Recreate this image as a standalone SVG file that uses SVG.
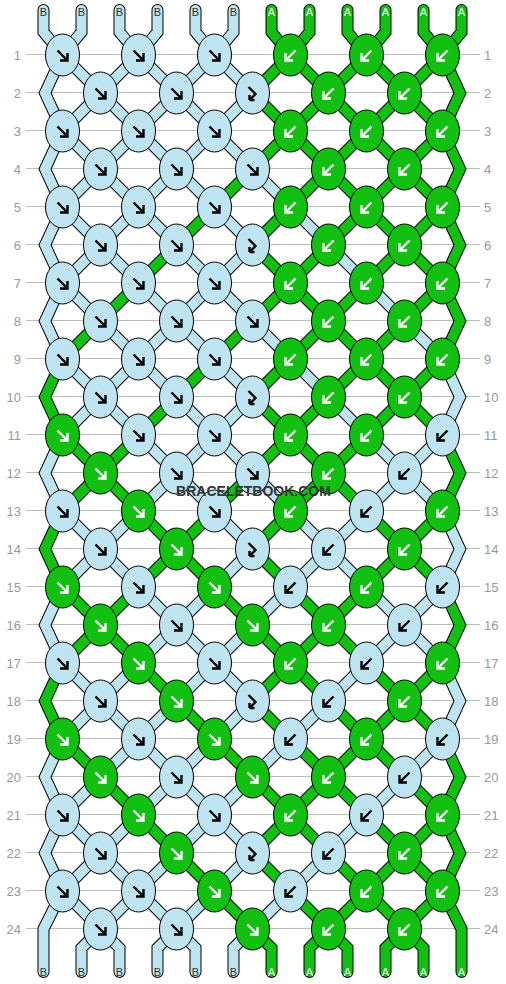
<svg xmlns="http://www.w3.org/2000/svg" xmlns:xlink="http://www.w3.org/1999/xlink" width="506" height="984" viewBox="0 0 506 984">
<style>
.ln{stroke:#bbb;stroke-width:1}
.num{font-family:"Liberation Sans",Arial,sans-serif;font-size:13px;fill:#999}
.lb{font-family:"Liberation Sans",Arial,sans-serif;font-size:11px;text-anchor:middle}
.lbB{fill:#333}
.lbA{fill:#fff}
.kb{fill:#bee4f2;stroke:#000;stroke-width:1}
.kg{fill:#12c012;stroke:#000;stroke-width:1}
.ak{fill:none;stroke:#000;stroke-width:2.4}
.aw{fill:none;stroke:#fff;stroke-width:2.4}
.wm{font-family:"Liberation Sans",Arial,sans-serif;font-size:14px;font-weight:bold;fill:#333;text-anchor:middle}
</style>
<defs>
<path id="aF" d="M-5-4.5L4 4.5M-2.5 5.5H5V-2"/>
<path id="aB" d="M5-4.5L-4 4.5M2.5 5.5H-5V-2"/>
<path id="aFB" d="M-4-6L3 1L-3 7M-3 7H2M-3 7V2"/>
<path id="pB" d="M43.5 10V32L62.5 55M81.5 10V32L62.5 55M119.5 10V32L138.5 55M157.5 10V32L138.5 55M195.5 10V32L214.5 55M233.5 10V32L214.5 55
M62.5 55L45 93L62.5 131M62.5 131L45 169L62.5 207M62.5 207L45 245L62.5 283M62.5 283L45 321L62.5 359M62.5 435L45 473L62.5 511M62.5 587L45 625L62.5 663M62.5 739L45 777L62.5 815M62.5 815L45 853L62.5 891M62.5 891L43.5 929V972
M442.5 359L460 397L442.5 435M442.5 511L460 549L442.5 587M442.5 663L460 701L442.5 739
M100.5 929L81.5 948V972M100.5 929L119.5 948V972M176.5 929L157.5 948V972M176.5 929L195.5 948V972M252.5 929L233.5 948V972
M62.5 55l38 38M138.5 55l-38 38M138.5 55l38 38M214.5 55l-38 38M214.5 55l38 38
M100.5 93l-38 38M100.5 93l38 38M176.5 93l-38 38M176.5 93l38 38M252.5 93l-38 38
M62.5 131l38 38M138.5 131l-38 38M138.5 131l38 38M214.5 131l-38 38M214.5 131l38 38
M100.5 169l-38 38M100.5 169l38 38M176.5 169l-38 38M176.5 169l38 38M252.5 169l38 38
M62.5 207l38 38M138.5 207l-38 38M138.5 207l38 38M214.5 207l38 38M290.5 207l38 38
M100.5 245l-38 38M100.5 245l38 38M176.5 245l38 38M252.5 245l-38 38M328.5 245l38 38
M62.5 283l38 38M138.5 283l38 38M214.5 283l-38 38M214.5 283l38 38M366.5 283l38 38
M100.5 321l38 38M176.5 321l-38 38M176.5 321l38 38M252.5 321l38 38M404.5 321l38 38
M62.5 359l38 38M138.5 359l-38 38M138.5 359l38 38M214.5 359l38 38M290.5 359l38 38
M100.5 397l-38 38M100.5 397l38 38M176.5 397l38 38M252.5 397l-38 38M328.5 397l38 38
M138.5 435l38 38M214.5 435l-38 38M214.5 435l38 38M366.5 435l38 38M442.5 435l-38 38
M176.5 473l-38 38M176.5 473l38 38M252.5 473l38 38M404.5 473l-38 38M404.5 473l38 38
M62.5 511l38 38M138.5 511l-38 38M214.5 511l38 38M290.5 511l38 38M366.5 511l-38 38
M100.5 549l-38 38M100.5 549l38 38M252.5 549l-38 38M328.5 549l-38 38M328.5 549l38 38
M138.5 587l38 38M214.5 587l-38 38M290.5 587l-38 38M366.5 587l38 38M442.5 587l-38 38
M176.5 625l-38 38M176.5 625l38 38M252.5 625l-38 38M404.5 625l-38 38M404.5 625l38 38
M62.5 663l38 38M138.5 663l-38 38M214.5 663l-38 38M214.5 663l38 38M366.5 663l-38 38
M100.5 701l-38 38M100.5 701l38 38M176.5 701l-38 38M252.5 701l-38 38M328.5 701l-38 38
M138.5 739l-38 38M138.5 739l38 38M214.5 739l-38 38M290.5 739l-38 38M442.5 739l-38 38
M100.5 777l-38 38M176.5 777l-38 38M176.5 777l38 38M252.5 777l-38 38M404.5 777l-38 38
M62.5 815l38 38M138.5 815l-38 38M214.5 815l-38 38M214.5 815l38 38M366.5 815l-38 38
M100.5 853l-38 38M100.5 853l38 38M176.5 853l-38 38M252.5 853l-38 38M328.5 853l-38 38
M62.5 891l38 38M138.5 891l-38 38M138.5 891l38 38M214.5 891l-38 38M290.5 891l-38 38"/>
<path id="pG" d="M271.5 10V32L290.5 55M309.5 10V32L290.5 55M347.5 10V32L366.5 55M385.5 10V32L366.5 55M423.5 10V32L442.5 55M461.5 10V32L442.5 55
M62.5 359L45 397L62.5 435M62.5 511L45 549L62.5 587M62.5 663L45 701L62.5 739
M442.5 55L460 93L442.5 131M442.5 131L460 169L442.5 207M442.5 207L460 245L442.5 283M442.5 283L460 321L442.5 359M442.5 435L460 473L442.5 511M442.5 587L460 625L442.5 663M442.5 739L460 777L442.5 815M442.5 815L460 853L442.5 891M442.5 891L461.5 929V972
M252.5 929L271.5 948V972M328.5 929L309.5 948V972M328.5 929L347.5 948V972M404.5 929L385.5 948V972M404.5 929L423.5 948V972
M290.5 55l-38 38M290.5 55l38 38M366.5 55l-38 38M366.5 55l38 38M442.5 55l-38 38
M252.5 93l38 38M328.5 93l-38 38M328.5 93l38 38M404.5 93l-38 38M404.5 93l38 38
M290.5 131l-38 38M290.5 131l38 38M366.5 131l-38 38M366.5 131l38 38M442.5 131l-38 38
M252.5 169l-38 38M328.5 169l-38 38M328.5 169l38 38M404.5 169l-38 38M404.5 169l38 38
M214.5 207l-38 38M290.5 207l-38 38M366.5 207l-38 38M366.5 207l38 38M442.5 207l-38 38
M176.5 245l-38 38M252.5 245l38 38M328.5 245l-38 38M404.5 245l-38 38M404.5 245l38 38
M138.5 283l-38 38M290.5 283l-38 38M290.5 283l38 38M366.5 283l-38 38M442.5 283l-38 38
M100.5 321l-38 38M252.5 321l-38 38M328.5 321l-38 38M328.5 321l38 38M404.5 321l-38 38
M214.5 359l-38 38M290.5 359l-38 38M366.5 359l-38 38M366.5 359l38 38M442.5 359l-38 38
M176.5 397l-38 38M252.5 397l38 38M328.5 397l-38 38M404.5 397l-38 38M404.5 397l38 38
M62.5 435l38 38M138.5 435l-38 38M290.5 435l-38 38M290.5 435l38 38M366.5 435l-38 38
M100.5 473l-38 38M100.5 473l38 38M252.5 473l-38 38M328.5 473l-38 38M328.5 473l38 38
M138.5 511l38 38M214.5 511l-38 38M290.5 511l-38 38M366.5 511l38 38M442.5 511l-38 38
M176.5 549l-38 38M176.5 549l38 38M252.5 549l38 38M404.5 549l-38 38M404.5 549l38 38
M62.5 587l38 38M138.5 587l-38 38M214.5 587l38 38M290.5 587l38 38M366.5 587l-38 38
M100.5 625l-38 38M100.5 625l38 38M252.5 625l38 38M328.5 625l-38 38M328.5 625l38 38
M138.5 663l38 38M290.5 663l-38 38M290.5 663l38 38M366.5 663l38 38M442.5 663l-38 38
M176.5 701l38 38M252.5 701l38 38M328.5 701l38 38M404.5 701l-38 38M404.5 701l38 38
M62.5 739l38 38M214.5 739l38 38M290.5 739l38 38M366.5 739l-38 38M366.5 739l38 38
M100.5 777l38 38M252.5 777l38 38M328.5 777l-38 38M328.5 777l38 38M404.5 777l38 38
M138.5 815l38 38M290.5 815l-38 38M290.5 815l38 38M366.5 815l38 38M442.5 815l-38 38
M176.5 853l38 38M252.5 853l38 38M328.5 853l38 38M404.5 853l-38 38M404.5 853l38 38
M214.5 891l38 38M290.5 891l38 38M366.5 891l-38 38M366.5 891l38 38M442.5 891l-38 38"/>
</defs>
<rect width="506" height="984" fill="#fff"/>
<g id="rowlines">
<path class="ln" d="M26 54.5H480M26 92.5H480M26 130.5H480M26 168.5H480M26 206.5H480M26 244.5H480M26 282.5H480M26 320.5H480M26 358.5H480M26 396.5H480M26 434.5H480M26 472.5H480M26 510.5H480M26 548.5H480M26 586.5H480M26 624.5H480M26 662.5H480M26 700.5H480M26 738.5H480M26 776.5H480M26 814.5H480M26 852.5H480M26 890.5H480M26 928.5H480"/>
</g>
<g id="rownumbers" class="num">
<g text-anchor="end">
<text x="21" y="59.5">1</text><text x="21" y="97.5">2</text><text x="21" y="135.5">3</text><text x="21" y="173.5">4</text><text x="21" y="211.5">5</text><text x="21" y="249.5">6</text><text x="21" y="287.5">7</text><text x="21" y="325.5">8</text><text x="21" y="363.5">9</text><text x="21" y="401.5">10</text><text x="21" y="439.5">11</text><text x="21" y="477.5">12</text><text x="21" y="515.5">13</text><text x="21" y="553.5">14</text><text x="21" y="591.5">15</text><text x="21" y="629.5">16</text><text x="21" y="667.5">17</text><text x="21" y="705.5">18</text><text x="21" y="743.5">19</text><text x="21" y="781.5">20</text><text x="21" y="819.5">21</text><text x="21" y="857.5">22</text><text x="21" y="895.5">23</text><text x="21" y="933.5">24</text>
</g>
<g text-anchor="start">
<text x="484" y="59.5">1</text><text x="484" y="97.5">2</text><text x="484" y="135.5">3</text><text x="484" y="173.5">4</text><text x="484" y="211.5">5</text><text x="484" y="249.5">6</text><text x="484" y="287.5">7</text><text x="484" y="325.5">8</text><text x="484" y="363.5">9</text><text x="484" y="401.5">10</text><text x="484" y="439.5">11</text><text x="484" y="477.5">12</text><text x="484" y="515.5">13</text><text x="484" y="553.5">14</text><text x="484" y="591.5">15</text><text x="484" y="629.5">16</text><text x="484" y="667.5">17</text><text x="484" y="705.5">18</text><text x="484" y="743.5">19</text><text x="484" y="781.5">20</text><text x="484" y="819.5">21</text><text x="484" y="857.5">22</text><text x="484" y="895.5">23</text><text x="484" y="933.5">24</text>
</g>
</g>
<g id="connectors" fill="none" stroke-linecap="round" stroke-linejoin="miter">
<use href="#pB" stroke="#000" stroke-width="12"/>
<use href="#pG" stroke="#000" stroke-width="12"/>
<use href="#pB" stroke="#bee4f2" stroke-width="10"/>
<use href="#pG" stroke="#12c012" stroke-width="10"/>
</g>
<g id="labels" class="lb">
<text class="lbB" x="43.5" y="16">B</text><text class="lbB" x="81.5" y="16">B</text><text class="lbB" x="119.5" y="16">B</text><text class="lbB" x="157.5" y="16">B</text><text class="lbB" x="195.5" y="16">B</text><text class="lbB" x="233.5" y="16">B</text>
<text class="lbA" x="271.5" y="16">A</text><text class="lbA" x="309.5" y="16">A</text><text class="lbA" x="347.5" y="16">A</text><text class="lbA" x="385.5" y="16">A</text><text class="lbA" x="423.5" y="16">A</text><text class="lbA" x="461.5" y="16">A</text>
<text class="lbB" x="43.5" y="976">B</text><text class="lbB" x="81.5" y="976">B</text><text class="lbB" x="119.5" y="976">B</text><text class="lbB" x="157.5" y="976">B</text><text class="lbB" x="195.5" y="976">B</text><text class="lbB" x="233.5" y="976">B</text>
<text class="lbA" x="271.5" y="976">A</text><text class="lbA" x="309.5" y="976">A</text><text class="lbA" x="347.5" y="976">A</text><text class="lbA" x="385.5" y="976">A</text><text class="lbA" x="423.5" y="976">A</text><text class="lbA" x="461.5" y="976">A</text>
</g>
<g id="knots">
<g id="k01-1" transform="translate(62.5 55)"><ellipse class="kb" rx="17" ry="21"/><use href="#aF" class="ak"/></g>
<g id="k01-2" transform="translate(138.5 55)"><ellipse class="kb" rx="17" ry="21"/><use href="#aF" class="ak"/></g>
<g id="k01-3" transform="translate(214.5 55)"><ellipse class="kb" rx="17" ry="21"/><use href="#aF" class="ak"/></g>
<g id="k01-4" transform="translate(290.5 55)"><ellipse class="kg" rx="17" ry="21"/><use href="#aB" class="aw"/></g>
<g id="k01-5" transform="translate(366.5 55)"><ellipse class="kg" rx="17" ry="21"/><use href="#aB" class="aw"/></g>
<g id="k01-6" transform="translate(442.5 55)"><ellipse class="kg" rx="17" ry="21"/><use href="#aB" class="aw"/></g>
<g id="k02-1" transform="translate(100.5 93)"><ellipse class="kb" rx="17" ry="21"/><use href="#aF" class="ak"/></g>
<g id="k02-2" transform="translate(176.5 93)"><ellipse class="kb" rx="17" ry="21"/><use href="#aF" class="ak"/></g>
<g id="k02-3" transform="translate(252.5 93)"><ellipse class="kb" rx="17" ry="21"/><use href="#aFB" class="ak"/></g>
<g id="k02-4" transform="translate(328.5 93)"><ellipse class="kg" rx="17" ry="21"/><use href="#aB" class="aw"/></g>
<g id="k02-5" transform="translate(404.5 93)"><ellipse class="kg" rx="17" ry="21"/><use href="#aB" class="aw"/></g>
<g id="k03-1" transform="translate(62.5 131)"><ellipse class="kb" rx="17" ry="21"/><use href="#aF" class="ak"/></g>
<g id="k03-2" transform="translate(138.5 131)"><ellipse class="kb" rx="17" ry="21"/><use href="#aF" class="ak"/></g>
<g id="k03-3" transform="translate(214.5 131)"><ellipse class="kb" rx="17" ry="21"/><use href="#aF" class="ak"/></g>
<g id="k03-4" transform="translate(290.5 131)"><ellipse class="kg" rx="17" ry="21"/><use href="#aB" class="aw"/></g>
<g id="k03-5" transform="translate(366.5 131)"><ellipse class="kg" rx="17" ry="21"/><use href="#aB" class="aw"/></g>
<g id="k03-6" transform="translate(442.5 131)"><ellipse class="kg" rx="17" ry="21"/><use href="#aB" class="aw"/></g>
<g id="k04-1" transform="translate(100.5 169)"><ellipse class="kb" rx="17" ry="21"/><use href="#aF" class="ak"/></g>
<g id="k04-2" transform="translate(176.5 169)"><ellipse class="kb" rx="17" ry="21"/><use href="#aF" class="ak"/></g>
<g id="k04-3" transform="translate(252.5 169)"><ellipse class="kb" rx="17" ry="21"/><use href="#aF" class="ak"/></g>
<g id="k04-4" transform="translate(328.5 169)"><ellipse class="kg" rx="17" ry="21"/><use href="#aB" class="aw"/></g>
<g id="k04-5" transform="translate(404.5 169)"><ellipse class="kg" rx="17" ry="21"/><use href="#aB" class="aw"/></g>
<g id="k05-1" transform="translate(62.5 207)"><ellipse class="kb" rx="17" ry="21"/><use href="#aF" class="ak"/></g>
<g id="k05-2" transform="translate(138.5 207)"><ellipse class="kb" rx="17" ry="21"/><use href="#aF" class="ak"/></g>
<g id="k05-3" transform="translate(214.5 207)"><ellipse class="kb" rx="17" ry="21"/><use href="#aF" class="ak"/></g>
<g id="k05-4" transform="translate(290.5 207)"><ellipse class="kg" rx="17" ry="21"/><use href="#aB" class="aw"/></g>
<g id="k05-5" transform="translate(366.5 207)"><ellipse class="kg" rx="17" ry="21"/><use href="#aB" class="aw"/></g>
<g id="k05-6" transform="translate(442.5 207)"><ellipse class="kg" rx="17" ry="21"/><use href="#aB" class="aw"/></g>
<g id="k06-1" transform="translate(100.5 245)"><ellipse class="kb" rx="17" ry="21"/><use href="#aF" class="ak"/></g>
<g id="k06-2" transform="translate(176.5 245)"><ellipse class="kb" rx="17" ry="21"/><use href="#aF" class="ak"/></g>
<g id="k06-3" transform="translate(252.5 245)"><ellipse class="kb" rx="17" ry="21"/><use href="#aFB" class="ak"/></g>
<g id="k06-4" transform="translate(328.5 245)"><ellipse class="kg" rx="17" ry="21"/><use href="#aB" class="aw"/></g>
<g id="k06-5" transform="translate(404.5 245)"><ellipse class="kg" rx="17" ry="21"/><use href="#aB" class="aw"/></g>
<g id="k07-1" transform="translate(62.5 283)"><ellipse class="kb" rx="17" ry="21"/><use href="#aF" class="ak"/></g>
<g id="k07-2" transform="translate(138.5 283)"><ellipse class="kb" rx="17" ry="21"/><use href="#aF" class="ak"/></g>
<g id="k07-3" transform="translate(214.5 283)"><ellipse class="kb" rx="17" ry="21"/><use href="#aF" class="ak"/></g>
<g id="k07-4" transform="translate(290.5 283)"><ellipse class="kg" rx="17" ry="21"/><use href="#aB" class="aw"/></g>
<g id="k07-5" transform="translate(366.5 283)"><ellipse class="kg" rx="17" ry="21"/><use href="#aB" class="aw"/></g>
<g id="k07-6" transform="translate(442.5 283)"><ellipse class="kg" rx="17" ry="21"/><use href="#aB" class="aw"/></g>
<g id="k08-1" transform="translate(100.5 321)"><ellipse class="kb" rx="17" ry="21"/><use href="#aF" class="ak"/></g>
<g id="k08-2" transform="translate(176.5 321)"><ellipse class="kb" rx="17" ry="21"/><use href="#aF" class="ak"/></g>
<g id="k08-3" transform="translate(252.5 321)"><ellipse class="kb" rx="17" ry="21"/><use href="#aF" class="ak"/></g>
<g id="k08-4" transform="translate(328.5 321)"><ellipse class="kg" rx="17" ry="21"/><use href="#aB" class="aw"/></g>
<g id="k08-5" transform="translate(404.5 321)"><ellipse class="kg" rx="17" ry="21"/><use href="#aB" class="aw"/></g>
<g id="k09-1" transform="translate(62.5 359)"><ellipse class="kb" rx="17" ry="21"/><use href="#aF" class="ak"/></g>
<g id="k09-2" transform="translate(138.5 359)"><ellipse class="kb" rx="17" ry="21"/><use href="#aF" class="ak"/></g>
<g id="k09-3" transform="translate(214.5 359)"><ellipse class="kb" rx="17" ry="21"/><use href="#aF" class="ak"/></g>
<g id="k09-4" transform="translate(290.5 359)"><ellipse class="kg" rx="17" ry="21"/><use href="#aB" class="aw"/></g>
<g id="k09-5" transform="translate(366.5 359)"><ellipse class="kg" rx="17" ry="21"/><use href="#aB" class="aw"/></g>
<g id="k09-6" transform="translate(442.5 359)"><ellipse class="kg" rx="17" ry="21"/><use href="#aB" class="aw"/></g>
<g id="k10-1" transform="translate(100.5 397)"><ellipse class="kb" rx="17" ry="21"/><use href="#aF" class="ak"/></g>
<g id="k10-2" transform="translate(176.5 397)"><ellipse class="kb" rx="17" ry="21"/><use href="#aF" class="ak"/></g>
<g id="k10-3" transform="translate(252.5 397)"><ellipse class="kb" rx="17" ry="21"/><use href="#aFB" class="ak"/></g>
<g id="k10-4" transform="translate(328.5 397)"><ellipse class="kg" rx="17" ry="21"/><use href="#aB" class="aw"/></g>
<g id="k10-5" transform="translate(404.5 397)"><ellipse class="kg" rx="17" ry="21"/><use href="#aB" class="aw"/></g>
<g id="k11-1" transform="translate(62.5 435)"><ellipse class="kg" rx="17" ry="21"/><use href="#aF" class="aw"/></g>
<g id="k11-2" transform="translate(138.5 435)"><ellipse class="kb" rx="17" ry="21"/><use href="#aF" class="ak"/></g>
<g id="k11-3" transform="translate(214.5 435)"><ellipse class="kb" rx="17" ry="21"/><use href="#aF" class="ak"/></g>
<g id="k11-4" transform="translate(290.5 435)"><ellipse class="kg" rx="17" ry="21"/><use href="#aB" class="aw"/></g>
<g id="k11-5" transform="translate(366.5 435)"><ellipse class="kg" rx="17" ry="21"/><use href="#aB" class="aw"/></g>
<g id="k11-6" transform="translate(442.5 435)"><ellipse class="kb" rx="17" ry="21"/><use href="#aB" class="ak"/></g>
<g id="k12-1" transform="translate(100.5 473)"><ellipse class="kg" rx="17" ry="21"/><use href="#aF" class="aw"/></g>
<g id="k12-2" transform="translate(176.5 473)"><ellipse class="kb" rx="17" ry="21"/><use href="#aF" class="ak"/></g>
<g id="k12-3" transform="translate(252.5 473)"><ellipse class="kb" rx="17" ry="21"/><use href="#aF" class="ak"/></g>
<g id="k12-4" transform="translate(328.5 473)"><ellipse class="kg" rx="17" ry="21"/><use href="#aB" class="aw"/></g>
<g id="k12-5" transform="translate(404.5 473)"><ellipse class="kb" rx="17" ry="21"/><use href="#aB" class="ak"/></g>
<g id="k13-1" transform="translate(62.5 511)"><ellipse class="kb" rx="17" ry="21"/><use href="#aF" class="ak"/></g>
<g id="k13-2" transform="translate(138.5 511)"><ellipse class="kg" rx="17" ry="21"/><use href="#aF" class="aw"/></g>
<g id="k13-3" transform="translate(214.5 511)"><ellipse class="kb" rx="17" ry="21"/><use href="#aF" class="ak"/></g>
<g id="k13-4" transform="translate(290.5 511)"><ellipse class="kg" rx="17" ry="21"/><use href="#aB" class="aw"/></g>
<g id="k13-5" transform="translate(366.5 511)"><ellipse class="kb" rx="17" ry="21"/><use href="#aB" class="ak"/></g>
<g id="k13-6" transform="translate(442.5 511)"><ellipse class="kg" rx="17" ry="21"/><use href="#aB" class="aw"/></g>
<g id="k14-1" transform="translate(100.5 549)"><ellipse class="kb" rx="17" ry="21"/><use href="#aF" class="ak"/></g>
<g id="k14-2" transform="translate(176.5 549)"><ellipse class="kg" rx="17" ry="21"/><use href="#aF" class="aw"/></g>
<g id="k14-3" transform="translate(252.5 549)"><ellipse class="kb" rx="17" ry="21"/><use href="#aFB" class="ak"/></g>
<g id="k14-4" transform="translate(328.5 549)"><ellipse class="kb" rx="17" ry="21"/><use href="#aB" class="ak"/></g>
<g id="k14-5" transform="translate(404.5 549)"><ellipse class="kg" rx="17" ry="21"/><use href="#aB" class="aw"/></g>
<g id="k15-1" transform="translate(62.5 587)"><ellipse class="kg" rx="17" ry="21"/><use href="#aF" class="aw"/></g>
<g id="k15-2" transform="translate(138.5 587)"><ellipse class="kb" rx="17" ry="21"/><use href="#aF" class="ak"/></g>
<g id="k15-3" transform="translate(214.5 587)"><ellipse class="kg" rx="17" ry="21"/><use href="#aF" class="aw"/></g>
<g id="k15-4" transform="translate(290.5 587)"><ellipse class="kb" rx="17" ry="21"/><use href="#aB" class="ak"/></g>
<g id="k15-5" transform="translate(366.5 587)"><ellipse class="kg" rx="17" ry="21"/><use href="#aB" class="aw"/></g>
<g id="k15-6" transform="translate(442.5 587)"><ellipse class="kb" rx="17" ry="21"/><use href="#aB" class="ak"/></g>
<g id="k16-1" transform="translate(100.5 625)"><ellipse class="kg" rx="17" ry="21"/><use href="#aF" class="aw"/></g>
<g id="k16-2" transform="translate(176.5 625)"><ellipse class="kb" rx="17" ry="21"/><use href="#aF" class="ak"/></g>
<g id="k16-3" transform="translate(252.5 625)"><ellipse class="kg" rx="17" ry="21"/><use href="#aF" class="aw"/></g>
<g id="k16-4" transform="translate(328.5 625)"><ellipse class="kg" rx="17" ry="21"/><use href="#aB" class="aw"/></g>
<g id="k16-5" transform="translate(404.5 625)"><ellipse class="kb" rx="17" ry="21"/><use href="#aB" class="ak"/></g>
<g id="k17-1" transform="translate(62.5 663)"><ellipse class="kb" rx="17" ry="21"/><use href="#aF" class="ak"/></g>
<g id="k17-2" transform="translate(138.5 663)"><ellipse class="kg" rx="17" ry="21"/><use href="#aF" class="aw"/></g>
<g id="k17-3" transform="translate(214.5 663)"><ellipse class="kb" rx="17" ry="21"/><use href="#aF" class="ak"/></g>
<g id="k17-4" transform="translate(290.5 663)"><ellipse class="kg" rx="17" ry="21"/><use href="#aB" class="aw"/></g>
<g id="k17-5" transform="translate(366.5 663)"><ellipse class="kb" rx="17" ry="21"/><use href="#aB" class="ak"/></g>
<g id="k17-6" transform="translate(442.5 663)"><ellipse class="kg" rx="17" ry="21"/><use href="#aB" class="aw"/></g>
<g id="k18-1" transform="translate(100.5 701)"><ellipse class="kb" rx="17" ry="21"/><use href="#aF" class="ak"/></g>
<g id="k18-2" transform="translate(176.5 701)"><ellipse class="kg" rx="17" ry="21"/><use href="#aF" class="aw"/></g>
<g id="k18-3" transform="translate(252.5 701)"><ellipse class="kb" rx="17" ry="21"/><use href="#aFB" class="ak"/></g>
<g id="k18-4" transform="translate(328.5 701)"><ellipse class="kb" rx="17" ry="21"/><use href="#aB" class="ak"/></g>
<g id="k18-5" transform="translate(404.5 701)"><ellipse class="kg" rx="17" ry="21"/><use href="#aB" class="aw"/></g>
<g id="k19-1" transform="translate(62.5 739)"><ellipse class="kg" rx="17" ry="21"/><use href="#aF" class="aw"/></g>
<g id="k19-2" transform="translate(138.5 739)"><ellipse class="kb" rx="17" ry="21"/><use href="#aF" class="ak"/></g>
<g id="k19-3" transform="translate(214.5 739)"><ellipse class="kg" rx="17" ry="21"/><use href="#aF" class="aw"/></g>
<g id="k19-4" transform="translate(290.5 739)"><ellipse class="kb" rx="17" ry="21"/><use href="#aB" class="ak"/></g>
<g id="k19-5" transform="translate(366.5 739)"><ellipse class="kg" rx="17" ry="21"/><use href="#aB" class="aw"/></g>
<g id="k19-6" transform="translate(442.5 739)"><ellipse class="kb" rx="17" ry="21"/><use href="#aB" class="ak"/></g>
<g id="k20-1" transform="translate(100.5 777)"><ellipse class="kg" rx="17" ry="21"/><use href="#aF" class="aw"/></g>
<g id="k20-2" transform="translate(176.5 777)"><ellipse class="kb" rx="17" ry="21"/><use href="#aF" class="ak"/></g>
<g id="k20-3" transform="translate(252.5 777)"><ellipse class="kg" rx="17" ry="21"/><use href="#aF" class="aw"/></g>
<g id="k20-4" transform="translate(328.5 777)"><ellipse class="kg" rx="17" ry="21"/><use href="#aB" class="aw"/></g>
<g id="k20-5" transform="translate(404.5 777)"><ellipse class="kb" rx="17" ry="21"/><use href="#aB" class="ak"/></g>
<g id="k21-1" transform="translate(62.5 815)"><ellipse class="kb" rx="17" ry="21"/><use href="#aF" class="ak"/></g>
<g id="k21-2" transform="translate(138.5 815)"><ellipse class="kg" rx="17" ry="21"/><use href="#aF" class="aw"/></g>
<g id="k21-3" transform="translate(214.5 815)"><ellipse class="kb" rx="17" ry="21"/><use href="#aF" class="ak"/></g>
<g id="k21-4" transform="translate(290.5 815)"><ellipse class="kg" rx="17" ry="21"/><use href="#aB" class="aw"/></g>
<g id="k21-5" transform="translate(366.5 815)"><ellipse class="kb" rx="17" ry="21"/><use href="#aB" class="ak"/></g>
<g id="k21-6" transform="translate(442.5 815)"><ellipse class="kg" rx="17" ry="21"/><use href="#aB" class="aw"/></g>
<g id="k22-1" transform="translate(100.5 853)"><ellipse class="kb" rx="17" ry="21"/><use href="#aF" class="ak"/></g>
<g id="k22-2" transform="translate(176.5 853)"><ellipse class="kg" rx="17" ry="21"/><use href="#aF" class="aw"/></g>
<g id="k22-3" transform="translate(252.5 853)"><ellipse class="kb" rx="17" ry="21"/><use href="#aFB" class="ak"/></g>
<g id="k22-4" transform="translate(328.5 853)"><ellipse class="kb" rx="17" ry="21"/><use href="#aB" class="ak"/></g>
<g id="k22-5" transform="translate(404.5 853)"><ellipse class="kg" rx="17" ry="21"/><use href="#aB" class="aw"/></g>
<g id="k23-1" transform="translate(62.5 891)"><ellipse class="kb" rx="17" ry="21"/><use href="#aF" class="ak"/></g>
<g id="k23-2" transform="translate(138.5 891)"><ellipse class="kb" rx="17" ry="21"/><use href="#aF" class="ak"/></g>
<g id="k23-3" transform="translate(214.5 891)"><ellipse class="kg" rx="17" ry="21"/><use href="#aF" class="aw"/></g>
<g id="k23-4" transform="translate(290.5 891)"><ellipse class="kb" rx="17" ry="21"/><use href="#aB" class="ak"/></g>
<g id="k23-5" transform="translate(366.5 891)"><ellipse class="kg" rx="17" ry="21"/><use href="#aB" class="aw"/></g>
<g id="k23-6" transform="translate(442.5 891)"><ellipse class="kg" rx="17" ry="21"/><use href="#aB" class="aw"/></g>
<g id="k24-1" transform="translate(100.5 929)"><ellipse class="kb" rx="17" ry="21"/><use href="#aF" class="ak"/></g>
<g id="k24-2" transform="translate(176.5 929)"><ellipse class="kb" rx="17" ry="21"/><use href="#aF" class="ak"/></g>
<g id="k24-3" transform="translate(252.5 929)"><ellipse class="kg" rx="17" ry="21"/><use href="#aF" class="aw"/></g>
<g id="k24-4" transform="translate(328.5 929)"><ellipse class="kg" rx="17" ry="21"/><use href="#aB" class="aw"/></g>
<g id="k24-5" transform="translate(404.5 929)"><ellipse class="kg" rx="17" ry="21"/><use href="#aB" class="aw"/></g>
</g>
<text id="watermark" class="wm" x="253.5" y="496">BRACELETBOOK.COM</text>
</svg>
